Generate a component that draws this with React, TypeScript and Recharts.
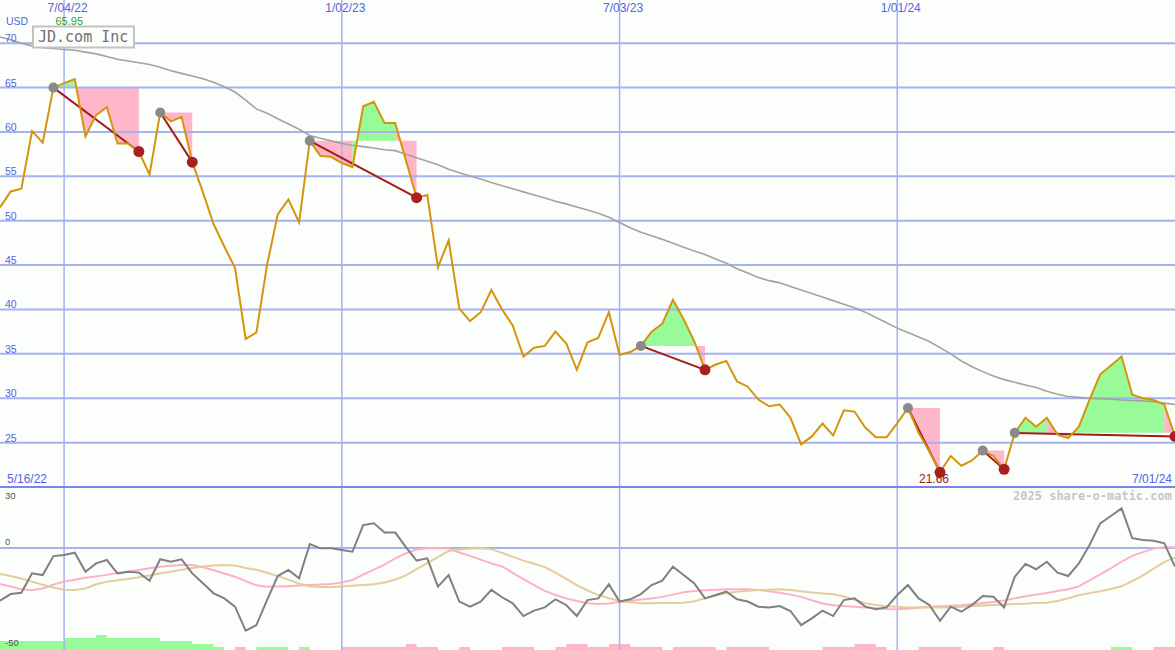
import React from "react";
import { ComposedChart, Line, Area, XAxis, YAxis, ReferenceLine } from "recharts";

// ---------- data ----------
const weeks: number[] = Array.from({ length: 111 }, (_, i) => i + 1); // week 1 = 5/23/22

const price: number[] = [
  51.5, 53.3, 53.6, 60.1, 58.8, 65.0, 65.5, 65.95, 59.5, 61.9,
  62.8, 58.7, 58.7, 57.8, 55.2, 62.2, 61.2, 61.7, 56.6, 53.2,
  49.6, 47.1, 44.7, 36.7, 37.4, 45.0, 50.7, 52.4, 49.8, 59.0,
  57.3, 57.2, 56.5, 56.05, 62.9, 63.4, 61.0, 61.0, 56.8, 52.6,
  52.9, 44.75, 47.8, 40.1, 38.7, 39.7, 42.2, 40.0, 38.2, 34.7,
  35.7, 35.9, 37.5, 36.2, 33.2, 36.3, 36.8, 39.7, 34.9, 35.2,
  35.9, 37.5, 38.4, 41.1, 38.9, 36.4, 33.2, 33.8, 34.2, 31.9,
  31.3, 29.85, 29.1, 29.3, 27.8, 24.8, 25.7, 27.15, 25.8, 28.65,
  28.5, 26.7, 25.6, 25.6, 27.2, 28.9, 26.1, 24.0, 21.66, 23.5,
  22.4, 23.0, 24.1, 23.5, 22.0, 26.1, 27.8, 26.8, 27.8, 25.9,
  25.5, 26.8, 29.85, 32.7, 33.7, 34.7, 30.4, 30.0, 29.8, 29.3,
  25.7,
];

const movingAvg: number[] = [
  70.7, 70.4, 70.0, 69.7, 69.5, 69.4, 69.3, 69.2, 69.0, 68.8,
  68.5, 68.2, 68.0, 67.8, 67.6, 67.3, 66.9, 66.6, 66.3, 66.0,
  65.6, 65.1, 64.5, 63.6, 62.6, 62.1, 61.5, 60.9, 60.3, 59.6,
  59.3, 59.0, 58.7, 58.5, 58.35, 58.2, 58.0, 57.9, 57.5, 57.1,
  56.7, 56.3, 55.8, 55.4, 55.05, 54.7, 54.3, 53.95, 53.6, 53.25,
  52.9, 52.55, 52.2, 51.9, 51.55, 51.2, 50.85, 50.4, 49.8, 49.2,
  48.7, 48.3, 47.9, 47.45, 47.0, 46.6, 46.2, 45.7, 45.2, 44.6,
  44.1, 43.6, 43.25, 43.0, 42.6, 42.2, 41.8, 41.4, 41.0, 40.6,
  40.2, 39.7, 39.1, 38.5, 37.9, 37.4, 36.9, 36.4, 35.7, 35.0,
  34.2, 33.55, 33.0, 32.5, 32.1, 31.8, 31.5, 31.2, 30.8, 30.45,
  30.2, 30.1, 30.0, 29.95, 29.9, 29.8, 29.75, 29.7, 29.6, 29.45,
  29.3,
];

const oscillator: number[] = [
  -28, -24.5, -23.8, -13.5, -14.4, -4.3, -3.7, -2.5, -12.6, -8.2,
  -6.4, -13.5, -12.6, -13.1, -17.4, -6.0, -7.3, -6.0, -13.5, -18.8,
  -24.1, -26.8, -31.2, -44, -41, -27.7, -14.9, -11.7, -16.1, 2.1,
  -0.2, -0.2, -1.1, -2.0, 12.2, 13.1, 8.2, 8.2, 0.5, -6.7,
  -5.5, -20.6, -14.4, -28.5, -31.2, -28.5, -22.3, -26.2, -29.4, -36.2,
  -33.3, -31.6, -27.3, -30.3, -36.2, -27.7, -26.8, -19.3, -28.5, -27.3,
  -24.5, -19.7, -17.4, -9.9, -14.4, -18.8, -26.8, -25, -23.2, -27.3,
  -28.5, -31.2, -31.6, -30.9, -33.5, -41, -37.4, -33.3, -36.2, -27.7,
  -26.8, -31.2, -32.6, -31.6, -25, -19.7, -26.8, -30.3, -38.7, -31.2,
  -33.9, -30.3, -25.5, -25.9, -31.6, -15.3, -8.5, -11.3, -7.3, -13.1,
  -14.9, -8.2, 1.6, 13.1, 17, 21.1, 5.2, 4.3, 3.9, 2.5,
  -9.9,
];

const oscFast: number[] = [
  -19.1, -20.5, -22.0, -22.5, -21.5, -19.5, -17.8, -16.9, -15.8, -15.1,
  -14.3, -13.3, -12.5, -11.7, -10.8, -10.0, -9.4, -9.0, -9.0, -10.2,
  -11.8, -13.6, -15.3, -17.6, -19.8, -20.6, -20.5, -20.3, -20.0, -19.7,
  -19.4, -19.1, -18.3, -17.0, -14.2, -11.5, -8.8, -5.5, -2.8, -0.8,
  -0.2, -0.2, -0.3, -2.4, -4.2, -6.2, -8.2, -9.8, -13.2, -16.5,
  -19.8, -22.8, -25.0, -26.8, -28.2, -29.2, -29.8, -29.5, -28.6, -28.0,
  -27.4, -26.9, -26.0, -24.8, -23.5, -22.9, -22.5, -22.2, -22.0, -22.0,
  -22.0, -22.4, -23.0, -23.8, -24.8, -26.0, -27.8, -29.5, -30.4, -30.9,
  -31.3, -31.6, -32.0, -32.4, -32.6, -32.3, -31.8, -31.3, -31.0, -30.7,
  -30.4, -29.9, -29.3, -28.7, -27.9, -26.8, -25.7, -24.8, -23.9, -22.9,
  -21.9, -20.4, -17.2, -14.0, -10.8, -7.2, -4.2, -2.2, -0.3, 0.4,
  0.4,
];

const oscSlow: number[] = [
  -13.8, -14.9, -16.2, -17.9, -19.6, -21.0, -22.2, -22.3, -21.5, -19.3,
  -17.9, -17.2, -16.5, -15.6, -14.6, -13.4, -12.6, -11.6, -10.6, -9.8,
  -9.3, -9.0, -9.3, -10.6, -11.6, -13.2, -14.9, -16.8, -19.0, -20.4,
  -20.8, -20.8, -20.5, -20.1, -19.7, -19.3, -18.4, -16.8, -14.6, -11.2,
  -8.0, -4.8, -1.6, -0.8, -0.3, -0.2, -0.6, -2.6, -4.7, -6.7,
  -8.4, -10.2, -13.1, -16.4, -19.7, -22.6, -24.9, -26.7, -28.1, -28.9,
  -29.4, -29.4, -29.3, -29.2, -29.1, -28.3, -26.8, -25.3, -24.1, -23.3,
  -22.8, -22.4, -22.2, -22.0, -22.4, -23.0, -23.7, -24.2, -24.6, -25.8,
  -27.5, -29.4, -30.3, -31.0, -31.3, -31.6, -31.6, -31.6, -31.6, -31.5,
  -31.2, -30.9, -30.6, -30.3, -30.0, -29.8, -29.6, -29.3, -29.1, -28.2,
  -26.7, -25.1, -24.0, -23.0, -21.8, -20.4, -17.6, -14.6, -11.0, -7.5,
  -5.0,
];

const barUp: number[] = [
  3, 3, 3, 3, 3, 3, 4, 4, 4, 5,
  4, 4, 4, 4, 4, 3, 3, 3, 2, 2,
  1, 0, 0, 0, 1, 1, 1, 0, 1, 0,
  0, 0, 0, 0, 0, 0, 0, 0, 0, 0,
  0, 0, 0, 0, 0, 0, 0, 0, 0, 0,
  0, 0, 0, 0, 0, 0, 0, 0, 0, 0,
  0, 0, 0, 0, 0, 0, 0, 0, 0, 0,
  0, 0, 0, 0, 0, 0, 0, 0, 0, 0,
  0, 0, 0, 0, 0, 0, 0, 0, 0, 0,
  0, 0, 0, 0, 0, 0, 0, 0, 0, 0,
  0, 0, 0, 0, 1, 1, 0, 0, 0, 0,
  0,
];

const barDown: number[] = [
  0, 0, 0, 0, 0, 0, 0, 0, 0, 0,
  0, 0, 0, 0, 0, 0, 0, 0, 0, 0,
  0, 0, 1, 0, 0, 0, 0, 0, 0, 0,
  0, 0, 1, 1, 1, 1, 1, 1, 2, 1,
  1, 0, 0, 1, 0, 0, 0, 1, 1, 1,
  0, 0, 1, 2, 2, 1, 1, 2, 2, 1,
  1, 1, 0, 1, 1, 1, 1, 0, 1, 1,
  1, 1, 0, 0, 0, 0, 0, 1, 1, 1,
  2, 2, 1, 0, 0, 0, 1, 1, 1, 1,
  0, 0, 0, 1, 0, 0, 0, 0, 0, 0,
  0, 0, 0, 0, 0, 0, 0, 0, 1, 1,
  1,
];

// trades: [entry week, exit week]
const trades: [number, number][] = [
  [6, 14], [16, 19], [30, 40], [61, 67], [86, 89], [93, 95], [96, 111],
];

const dateTickWeeks = [7, 33, 59, 85];
const dateTickLabels = ["7/04/22", "1/02/23", "7/03/23", "1/01/24"];
const rangeLabels = ["5/16/22", "7/01/24"];
const priceTicks = [25, 30, 35, 40, 45, 50, 55, 60, 65, 70];
const oscTicks = [30, 0, -50];
const title = "JD.com Inc";
const currency = "USD";
const watermark = "2025 share-o-matic.com";

// ---------- styles ----------
const W = 1175;
const TOP_H = 489;
const BOT_H = 161;
const AX = 30; // hidden axis band pushed outside the drawing by negative margins
const BG = "#fcfefc";
const GRID = "#a4b2f2";
const SEP = "#7886ea";
const BLUE = "#5563e6";
const GREEN = "#98fb98";
const PINK = "#ffb6c8";
const SANS = "'Liberation Sans', Arial, sans-serif";
const MONO = "'DejaVu Sans Mono', monospace";

// ---------- derived rows ----------
type Run = { key: string; color: string; from: number; to: number; level: number };
const runs: Run[] = [];
trades.forEach(([en, ex]) => {
  const level = price[en - 1];
  let cur: Run | null = null;
  for (let s = en; s < ex; s++) {
    const color = price[s] >= level ? GREEN : PINK;
    if (!cur || cur.color !== color) {
      cur = { key: `f${runs.length}`, color, from: s, to: s + 1, level };
      runs.push(cur);
    } else {
      cur.to = s + 1;
    }
  }
});

const rows = weeks.map((w, i) => {
  const r: any = {
    x: w,
    price: price[i],
    ma: movingAvg[i],
    osc: oscillator[i],
    fast: oscFast[i],
    slow: oscSlow[i],
    up: barUp[i],
    down: barDown[i],
  };
  runs.forEach((run) => {
    r[run.key] = w >= run.from && w <= run.to ? [run.level, price[i]] : null;
  });
  trades.forEach(([en, ex], k) => {
    r[`t${k}`] = w === en || w === ex ? price[i] : null;
  });
  return r;
});

let maxIdx = 0;
let minIdx = 0;
price.forEach((p, i) => {
  if (p > price[maxIdx]) maxIdx = i;
  if (p < price[minIdx]) minIdx = i;
});

// ---------- renderers ----------
const DateTick = (props: any) => {
  const { x, payload } = props;
  const label = dateTickLabels[dateTickWeeks.indexOf(payload.value)];
  return (
    <text x={x + 3.5} y={12} textAnchor="middle" fill={BLUE} fontSize={12} fontFamily={SANS}>
      {label}
    </text>
  );
};

const PriceTick = (props: any) => {
  const { y, payload } = props;
  return (
    <text x={5} y={y - 1} fill={BLUE} fontSize={10.5} fontFamily={SANS}>
      {payload.value}
    </text>
  );
};

const oscDy: Record<number, number> = { 30: 7.5, 0: -3, [-50]: 4 };
const OscTick = (props: any) => {
  const { y, payload } = props;
  return (
    <text x={5} y={y + (oscDy[payload.value] ?? 0)} fill="#555555" fontSize={9.5} fontFamily={SANS}>
      {payload.value}
    </text>
  );
};

const renderPriceDot = (p: any) => {
  const { cx, index } = p;
  if (index === maxIdx) {
    return (
      <text key={`pd${index}`} x={cx - 5.5} y={24.5} textAnchor="middle" fill="#2e9e2e" fontSize={11} fontFamily={SANS}>
        {price[maxIdx].toFixed(2)}
      </text>
    );
  }
  if (index === minIdx) {
    return (
      <text key={`pd${index}`} x={cx - 6} y={483} textAnchor="middle" fill="#a01818" fontSize={12} fontFamily={SANS}>
        {price[minIdx].toFixed(2)}
      </text>
    );
  }
  return <g key={`pd${index}`} />;
};

const makeTradeDot = (en: number) => (p: any) => {
  const { cx, cy, index, value } = p;
  if (value == null || cy == null || cx == null) return <g key={`td${index}`} />;
  const isEntry = index === en - 1;
  return (
    <circle
      key={`td${index}`}
      cx={cx}
      cy={cy}
      r={isEntry ? 5 : 5.5}
      fill={isEntry ? "#8a8a8a" : "#a82020"}
      stroke="none"
    />
  );
};

export default function App() {
  return (
    <div style={{ position: "absolute", left: 0, top: 0, width: W, height: TOP_H + BOT_H, background: BG }}>
      <div style={{ position: "absolute", left: 0, top: 0 }}>
        <ComposedChart width={W} height={TOP_H} data={rows} margin={{ top: -AX, right: 0, bottom: 0, left: -AX }}>
          <XAxis
            type="number"
            dataKey="x"
            orientation="top"
            domain={[1, 111]}
            ticks={dateTickWeeks}
            interval={0}
            height={AX}
            axisLine={false}
            tickLine={false}
            tick={<DateTick />}
            allowDataOverflow
          />
          <YAxis
            domain={[19.775, 74.87]}
            ticks={priceTicks}
            interval={0}
            width={AX}
            axisLine={false}
            tickLine={false}
            tick={<PriceTick />}
            allowDataOverflow
          />
          {priceTicks.map((t) => (
            <ReferenceLine key={`h${t}`} y={t} stroke={GRID} strokeWidth={2} />
          ))}
          {dateTickWeeks.map((t) => (
            <ReferenceLine key={`v${t}`} x={t} stroke={GRID} strokeWidth={1.5} />
          ))}
          <ReferenceLine y={20} stroke={SEP} strokeWidth={2} />
          {runs.map((run) => (
            <Area
              key={run.key}
              dataKey={run.key}
              type="linear"
              stroke="none"
              fill={run.color}
              fillOpacity={1}
              connectNulls={false}
              dot={false}
              activeDot={false}
              isAnimationActive={false}
            />
          ))}
          <Line
            dataKey="ma"
            type="linear"
            stroke="#a2a2a2"
            strokeWidth={1.6}
            dot={false}
            activeDot={false}
            isAnimationActive={false}
          />
          {trades.map(([en], k) => (
            <Line
              key={`t${k}`}
              dataKey={`t${k}`}
              type="linear"
              stroke="#a31c1c"
              strokeWidth={2}
              connectNulls
              dot={makeTradeDot(en)}
              activeDot={false}
              isAnimationActive={false}
            />
          ))}
          <Line
            dataKey="price"
            type="linear"
            stroke="#d4950c"
            strokeWidth={2}
            dot={renderPriceDot}
            activeDot={false}
            isAnimationActive={false}
          />
        </ComposedChart>
      </div>
      <div style={{ position: "absolute", left: 0, top: TOP_H }}>
        <ComposedChart width={W} height={BOT_H} data={rows} margin={{ top: 0, right: 0, bottom: 0, left: -AX }}>
          <XAxis type="number" dataKey="x" domain={[1, 111]} hide allowDataOverflow />
          <YAxis
            yAxisId="o"
            domain={[-54.26, 31.38]}
            ticks={oscTicks}
            interval={0}
            width={AX}
            axisLine={false}
            tickLine={false}
            tick={<OscTick />}
            allowDataOverflow
          />
          <YAxis yAxisId="v" domain={[0, 53.67]} hide allowDataOverflow />
          {dateTickWeeks.map((t) => (
            <ReferenceLine key={`lv${t}`} yAxisId="o" x={t} stroke={GRID} strokeWidth={1.5} />
          ))}
          <ReferenceLine yAxisId="o" y={0} stroke={GRID} strokeWidth={2} />
          <Area
            yAxisId="v"
            dataKey="up"
            type="stepAfter"
            stroke="none"
            fill={GREEN}
            fillOpacity={1}
            dot={false}
            activeDot={false}
            isAnimationActive={false}
          />
          <Area
            yAxisId="v"
            dataKey="down"
            type="stepAfter"
            stroke="none"
            fill={PINK}
            fillOpacity={1}
            dot={false}
            activeDot={false}
            isAnimationActive={false}
          />
          <Line yAxisId="o" dataKey="fast" type="linear" stroke="#ffb0c8" strokeWidth={2} dot={false} activeDot={false} isAnimationActive={false} />
          <Line yAxisId="o" dataKey="slow" type="linear" stroke="#e4cc9e" strokeWidth={2} dot={false} activeDot={false} isAnimationActive={false} />
          <Line yAxisId="o" dataKey="osc" type="linear" stroke="#808080" strokeWidth={2} dot={false} activeDot={false} isAnimationActive={false} />
        </ComposedChart>
      </div>
      <svg
        width={W}
        height={TOP_H + BOT_H}
        style={{ position: "absolute", left: 0, top: 0, pointerEvents: "none" }}
      >
        <text x={6} y={25} fill={BLUE} fontSize={10.5} fontFamily={SANS}>
          {currency}
        </text>
        <rect x={33} y={26.5} width={101} height={21} fill={BG} stroke="#c2c2c2" strokeWidth={2} />
        <text x={38} y={42} fill="#707070" fontSize={15} fontFamily={MONO}>
          {title}
        </text>
        <text x={7} y={483} fill={BLUE} fontSize={12} fontFamily={SANS}>
          {rangeLabels[0]}
        </text>
        <text x={1172} y={483} textAnchor="end" fill={BLUE} fontSize={12} fontFamily={SANS}>
          {rangeLabels[1]}
        </text>
        <text x={1172} y={500} textAnchor="end" fill="#c6c6c6" fontSize={12} fontWeight="bold" fontFamily={MONO}>
          {watermark}
        </text>
      </svg>
    </div>
  );
}
